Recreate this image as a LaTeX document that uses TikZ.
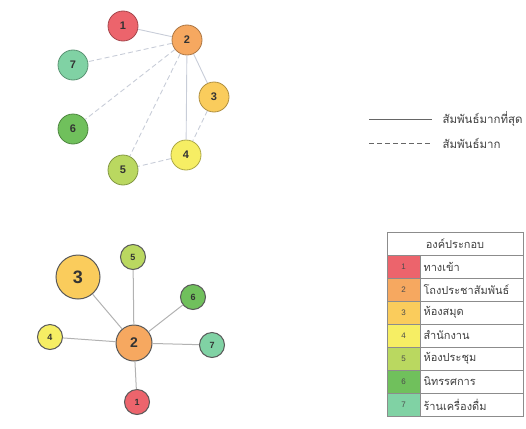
\documentclass[tikz,border=0pt]{standalone}
\usepackage{fontspec}
\setmainfont{Liberation Sans}
\newfontfamily\thaifont[Script=Thai]{Loma}

\definecolor{rA}{RGB}{236,100,108}
\definecolor{rB}{RGB}{246,168,96}
\definecolor{rC}{RGB}{250,204,92}
\definecolor{rD}{RGB}{246,238,100}
\definecolor{rE}{RGB}{186,216,96}
\definecolor{rF}{RGB}{112,192,92}
\definecolor{rG}{RGB}{128,210,164}
\definecolor{linkgray}{RGB}{200,205,216}

\tikzset{
  room/.style={circle, fill=#1, draw=#1!70!black, line width=0.8pt,
    inner sep=0pt, minimum size=30pt, font=\bfseries\fontsize{11}{12}\selectfont, text=black!80},
  hub/.style={circle, fill=#1, draw=black!65, line width=1pt,
    inner sep=0pt, minimum size=25pt, font=\bfseries\fontsize{9}{10}\selectfont, text=black!80},
  most/.style={draw=linkgray, line width=0.9pt},
  near/.style={draw=linkgray, line width=0.9pt, dash pattern=on 5pt off 3pt},
  numcell/.style={draw=black!45, line width=0.5pt, fill=#1, minimum width=33pt,
    minimum height=23pt, inner sep=0pt, font=\fontsize{8}{9}\selectfont, text=black!70},
  namecell/.style={draw=black!45, line width=0.5pt, minimum height=23pt,
    text width=97pt, inner sep=3pt, align=left, anchor=west,
    font=\thaifont\fontsize{11}{12}\selectfont, text=black!75}
}

\begin{document}
\begin{tikzpicture}[x=1pt, y=-1pt]
  \useasboundingbox (0,0) rectangle (526,428);
  \clip (0,0) rectangle (526,428);

  \node[room=rA] (t1) at (123,26) {1};
  \node[room=rB] (t2) at (187,40) {2};
  \node[room=rC] (t3) at (214,97) {3};
  \node[room=rD] (t4) at (186,155) {4};
  \node[room=rE] (t5) at (123,170) {5};
  \node[room=rF] (t6) at (73,129) {6};
  \node[room=rG] (t7) at (73,65) {7};
  \draw[most]
  (t1) -- (t2)
  (t2) -- (t3)
  (t2) -- (t4);
  \draw[near]
  (t2) -- (t7)
  (t2) -- (t6)
  (t2) -- (t5)
  (t3) -- (t4)
  (t4) -- (t5);

  \coordinate (sa) at (369,119);
  \coordinate (sb) at (432,119);
  \coordinate (da) at (369,143);
  \coordinate (db) at (432,143);
  \draw[black!60, line width=0.7pt] (sa) -- (sb);
  \draw[black!60, line width=0.7pt, dash pattern=on 5pt off 3pt] (da) -- (db);
  \node[anchor=west, font=\thaifont\fontsize{11.5}{12}\selectfont, text=black!75] (lmost) at (439,119) {สัมพันธ์มากที่สุด};
  \node[anchor=west, font=\thaifont\fontsize{11.5}{12}\selectfont, text=black!75] (lnear) at (439,143) {สัมพันธ์มาก};

  \node[hub=rB, minimum size=36pt, font=\bfseries\fontsize{14}{15}\selectfont] (b2) at (134,343) {2};
  \node[hub=rA] (b1) at (137,402) {1};
  \node[hub=rC, minimum size=44pt, font=\bfseries\fontsize{18}{19}\selectfont] (b3) at (78,277) {3};
  \node[hub=rD] (b4) at (50,337) {4};
  \node[hub=rE] (b5) at (133,257) {5};
  \node[hub=rF] (b6) at (193,297) {6};
  \node[hub=rG] (b7) at (212,345) {7};
  \draw[black!30, line width=1pt]
  (b2) -- (b1)
  (b2) -- (b3)
  (b2) -- (b4)
  (b2) -- (b5)
  (b2) -- (b6)
  (b2) -- (b7);

  \node[draw=black!45, line width=0.5pt, minimum width=136pt, minimum height=23pt,
    font=\thaifont\fontsize{11}{12}\selectfont, text=black!75] (head) at (455,243.5) {องค์ประกอบ};
  \node[numcell=rA] (n1) at (403.5,266.5) {1};
  \node[numcell=rB] (n2) at (403.5,289.5) {2};
  \node[numcell=rC] (n3) at (403.5,312.5) {3};
  \node[numcell=rD] (n4) at (403.5,335.5) {4};
  \node[numcell=rE] (n5) at (403.5,358.5) {5};
  \node[numcell=rF] (n6) at (403.5,381.5) {6};
  \node[numcell=rG] (n7) at (403.5,404.5) {7};
  \node[namecell] (r1) at (n1.east) {ทางเข้า};
  \node[namecell] (r2) at (n2.east) {โถงประชาสัมพันธ์};
  \node[namecell] (r3) at (n3.east) {ห้องสมุด};
  \node[namecell] (r4) at (n4.east) {สำนักงาน};
  \node[namecell] (r5) at (n5.east) {ห้องประชุม};
  \node[namecell] (r6) at (n6.east) {นิทรรศการ};
  \node[namecell] (r7) at (n7.east) {ร้านเครื่องดื่ม};
\end{tikzpicture}
\end{document}
